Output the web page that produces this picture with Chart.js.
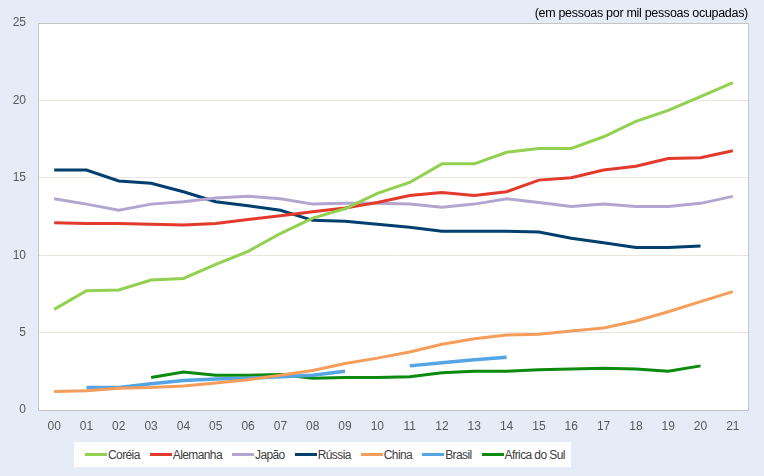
<!DOCTYPE html>
<html>
<head>
<meta charset="utf-8">
<script src="https://cdn.jsdelivr.net/npm/chart.js@4/dist/chart.umd.min.js"></script>
<style>
  html, body { margin: 0; padding: 0; background: #E5EBF7; }
  #wrap { position: relative; width: 764px; height: 476px; }
  #note {
    position: absolute; right: 16px; top: 6px; white-space: nowrap;
    font: 12.5px "Liberation Sans", sans-serif; letter-spacing: -0.3px; color: #000;
  }
  #legend {
    position: absolute; left: 74px; top: 442px; width: 497px; height: 25px;
    background: #fff; display: flex; align-items: center; padding-left: 11px; box-sizing: border-box;
    white-space: nowrap;
    font: 12px "Liberation Sans", sans-serif; letter-spacing: -0.6px; color: #404040;
  }
  #legend span.item { display: flex; align-items: center; margin-right: 10px; }
  #legend span.swatch { display: inline-block; width: 22px; height: 3px; margin-right: 1px; }
</style>
</head>
<body>
<div id="wrap">
  <canvas id="chart" width="764" height="476"></canvas>
  <div id="note">(em pessoas por mil pessoas ocupadas)</div>
  <div id="legend"></div>
</div>
<script>
// Years 2000-2021, shown as two digits
const years = ['00', '01', '02', '03', '04', '05', '06', '07', '08', '09', '10',
  '11', '12', '13', '14', '15', '16', '17', '18', '19', '20', '21'];

const coreia = [6.5, 7.7, 7.75, 8.4, 8.5, 9.4, 10.25, 11.4, 12.4, 13.0, 14.0,
  14.7, 15.9, 15.9, 16.65, 16.9, 16.9, 17.65, 18.65, 19.35, 20.25, 21.15];
const alemanha = [12.1, 12.05, 12.05, 12.0, 11.95, 12.05, 12.3, 12.55, 12.8, 13.05, 13.4,
  13.85, 14.05, 13.85, 14.1, 14.85, 15.0, 15.5, 15.75, 16.25, 16.3, 16.75];
const japao = [13.65, 13.3, 12.9, 13.3, 13.45, 13.7, 13.8, 13.65, 13.3, 13.35, 13.35,
  13.3, 13.1, 13.3, 13.65, 13.4, 13.15, 13.3, 13.15, 13.15, 13.35, 13.8];
const russia = [15.5, 15.5, 14.8, 14.65, 14.1, 13.45, 13.2, 12.9, 12.25, 12.2, 12.0,
  11.8, 11.55, 11.55, 11.55, 11.5, 11.1, 10.8, 10.5, 10.5, 10.6, null];
const china = [1.2, 1.25, 1.4, 1.45, 1.55, 1.75, 1.95, 2.25, 2.55, 3.0, 3.35,
  3.75, 4.25, 4.6, 4.85, 4.9, 5.1, 5.3, 5.75, 6.35, 7.0, 7.65];
const brasil = [null, 1.45, 1.45, 1.7, 1.9, 2.0, 2.05, 2.15, 2.25, 2.5, null,
  2.85, 3.05, 3.25, 3.4, null, null, null, null, null, null, null];
const africaDoSul = [null, null, null, 2.1, 2.45, 2.25, 2.25, 2.3, 2.05, 2.1, 2.1,
  2.15, 2.4, 2.5, 2.5, 2.6, 2.65, 2.7, 2.65, 2.5, 2.85, null];

const yTicks = [0, 5, 10, 15, 20, 25];

const series = [
  { label: 'Coréia', data: coreia, color: '#92D050', width: 3 },
  { label: 'Alemanha', data: alemanha, color: '#E33A2B', width: 3 },
  { label: 'Japão', data: japao, color: '#B3A5CF', width: 3 },
  { label: 'Rússia', data: russia, color: '#003F6E', width: 3 },
  { label: 'China', data: china, color: '#F59D5A', width: 3 },
  { label: 'Brasil', data: brasil, color: '#55A5E6', width: 3.5 },
  { label: 'Africa do Sul', data: africaDoSul, color: '#0A8A0E', width: 3 },
];

// white plot area with a grey frame, drawn under the lines
const plotFrame = {
  id: 'plotFrame',
  beforeDraw(chart) {
    const { ctx, chartArea: a } = chart;
    ctx.save();
    ctx.fillStyle = '#ffffff';
    ctx.fillRect(a.left, a.top, a.right - a.left, a.bottom - a.top);
    ctx.restore();
  },
  afterDatasetsDraw(chart) {
    const { ctx, chartArea: a } = chart;
    ctx.save();
    ctx.strokeStyle = '#C4C4C4';
    ctx.lineWidth = 1;
    ctx.strokeRect(a.left + 0.5, a.top + 0.5, a.right - a.left - 1, a.bottom - a.top);
    ctx.restore();
  },
};

const tickFont = { family: '"Liberation Sans", sans-serif', size: 12 };

new Chart(document.getElementById('chart'), {
  type: 'line',
  data: {
    labels: years,
    datasets: series.map(s => ({
      label: s.label,
      data: s.data,
      borderColor: s.color,
      backgroundColor: s.color,
      borderWidth: s.width,
      pointRadius: 0,
      tension: 0,
      spanGaps: false,
    })),
  },
  options: {
    responsive: false,
    animation: false,
    layout: { padding: { left: 0, right: 15, top: 23, bottom: 0 } },
    plugins: { legend: { display: false }, tooltip: { enabled: false } },
    scales: {
      x: {
        offset: true,
        grid: { display: false, drawTicks: false },
        border: { display: false },
        ticks: { color: '#595959', font: tickFont, padding: 9, maxRotation: 0 },
        afterFit(scale) { scale.height = 66; },
      },
      y: {
        min: 0,
        max: 25,
        afterBuildTicks(scale) { scale.ticks = yTicks.map(v => ({ value: v })); },
        grid: { color: '#EAE8DE', drawTicks: false },
        border: { display: false },
        ticks: { color: '#595959', font: tickFont, padding: 12 },
        afterFit(scale) { scale.width = 38; },
      },
    },
  },
  plugins: [plotFrame],
});

// legend built from the same series list
const legend = document.getElementById('legend');
series.forEach(s => {
  const item = document.createElement('span');
  item.className = 'item';
  const sw = document.createElement('span');
  sw.className = 'swatch';
  sw.style.background = s.color;
  item.appendChild(sw);
  item.appendChild(document.createTextNode(s.label));
  legend.appendChild(item);
});
</script>
</body>
</html>
